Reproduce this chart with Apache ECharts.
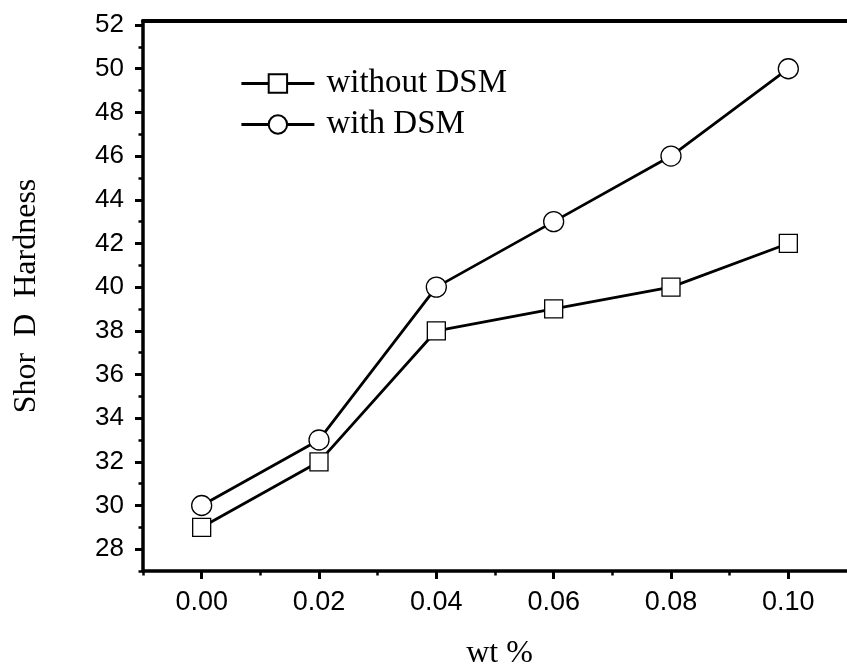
<!DOCTYPE html>
<html>
<head>
<meta charset="utf-8">
<script src="https://cdn.jsdelivr.net/npm/echarts@6/dist/echarts.min.js"></script>
<style>html,body{margin:0;padding:0;background:#fff}#c{width:847px;height:669px}</style>
</head>
<body>
<div id="c"></div>
<script>
var wt = [0.00, 0.02, 0.04, 0.06, 0.08, 0.10];
var withoutDSM = [29, 32, 38, 39, 40, 42];
var withDSM = [30, 33, 40, 43, 46, 50];
var xMajorTicks = [0.00, 0.02, 0.04, 0.06, 0.08, 0.10];
var xMinorTicks = [-0.01, 0.01, 0.03, 0.05, 0.07, 0.09];
var yMajorTicks = [28, 30, 32, 34, 36, 38, 40, 42, 44, 46, 48, 50, 52];
var yMinorTicks = [27, 29, 31, 33, 35, 37, 39, 41, 43, 45, 47, 49, 51];
var seriesNames = ['without DSM', 'with DSM'];
var xTitle = 'wt %';
var yTitle = 'Shor  D  Hardness';

var XMIN = -0.01, XMAX = 0.11, YMIN = 27, YMAX = 52.2;
var sans = '"Liberation Sans", Arial, sans-serif';
var serif = '"Liberation Serif", "Times New Roman", serif';

function pairs(xs, ys) { return xs.map(function (x, i) { return [x, ys[i]]; }); }

var chart = echarts.init(document.getElementById('c'), null, { renderer: 'canvas' });
chart.setOption({
  animation: false,
  backgroundColor: '#fff',
  grid: { left: 143, top: 20.7, right: -9, bottom: 98 },
  xAxis: [
    {
      type: 'value', position: 'bottom', min: XMIN, max: XMAX,
      axisLine: { show: true, onZero: false, lineStyle: { color: '#000', width: 3.5 } },
      axisTick: { show: true, inside: false, length: 8, lineStyle: { color: '#000', width: 3 }, customValues: xMajorTicks },
      axisLabel: { show: true, margin: 18, color: '#000', fontSize: 27, fontFamily: sans, customValues: xMajorTicks,
        formatter: function (v) { return Number(v).toFixed(2); } },
      splitLine: { show: false }
    },
    {
      type: 'value', position: 'bottom', min: XMIN, max: XMAX,
      axisLine: { show: false, onZero: false },
      axisTick: { show: true, inside: false, length: 4.5, lineStyle: { color: '#000', width: 2.5 }, customValues: xMinorTicks },
      axisLabel: { show: false },
      splitLine: { show: false }
    },
    {
      type: 'value', position: 'top', min: XMIN, max: XMAX,
      axisLine: { show: true, onZero: false, lineStyle: { color: '#000', width: 4 } },
      axisTick: { show: false }, axisLabel: { show: false }, splitLine: { show: false }
    }
  ],
  yAxis: [
    {
      type: 'value', position: 'left', min: YMIN, max: YMAX,
      axisLine: { show: true, onZero: false, lineStyle: { color: '#000', width: 3.5 } },
      axisTick: { show: true, inside: false, length: 8, lineStyle: { color: '#000', width: 3 }, customValues: yMajorTicks },
      axisLabel: { show: true, margin: 19, color: '#000', fontSize: 26, fontFamily: sans, customValues: yMajorTicks },
      splitLine: { show: false }
    },
    {
      type: 'value', position: 'left', min: YMIN, max: YMAX,
      axisLine: { show: false, onZero: false },
      axisTick: { show: true, inside: false, length: 4.5, lineStyle: { color: '#000', width: 2.5 }, customValues: yMinorTicks },
      axisLabel: { show: false },
      splitLine: { show: false }
    }
  ],
  legend: {
    orient: 'vertical', left: 240, top: 67, padding: 0,
    itemWidth: 73, itemHeight: 23, itemGap: 8,
    data: seriesNames,
    lineStyle: { width: 2.8, color: '#000' },
    textStyle: { color: '#000', fontSize: 33, fontFamily: serif, padding: [0, 0, 0, 7] }
  },
  graphic: [
    { type: 'text', x: 27, y: 296, rotation: Math.PI / 2,
      style: { text: yTitle, x: 0, y: 0, align: 'center', verticalAlign: 'middle', fill: '#000', fontSize: 32, fontFamily: serif } },
    { type: 'text', x: 499.5, y: 654,
      style: { text: xTitle, x: 0, y: 0, align: 'center', verticalAlign: 'middle', fill: '#000', fontSize: 32, fontFamily: serif } }
  ],
  series: [
    {
      name: seriesNames[0], type: 'line', xAxisIndex: 0, yAxisIndex: 0,
      data: pairs(wt, withoutDSM),
      symbol: 'rect', symbolSize: 18, showAllSymbol: true,
      lineStyle: { color: '#000', width: 2.8 },
      itemStyle: { color: '#fff', borderColor: '#000', borderWidth: 1.3 },
      z: 3
    },
    {
      name: seriesNames[1], type: 'line', xAxisIndex: 0, yAxisIndex: 0,
      data: pairs(wt, withDSM),
      symbol: 'circle', symbolSize: 20, showAllSymbol: true,
      lineStyle: { color: '#000', width: 2.8 },
      itemStyle: { color: '#fff', borderColor: '#000', borderWidth: 1.3 },
      z: 3
    }
  ]
});
</script>
</body>
</html>
